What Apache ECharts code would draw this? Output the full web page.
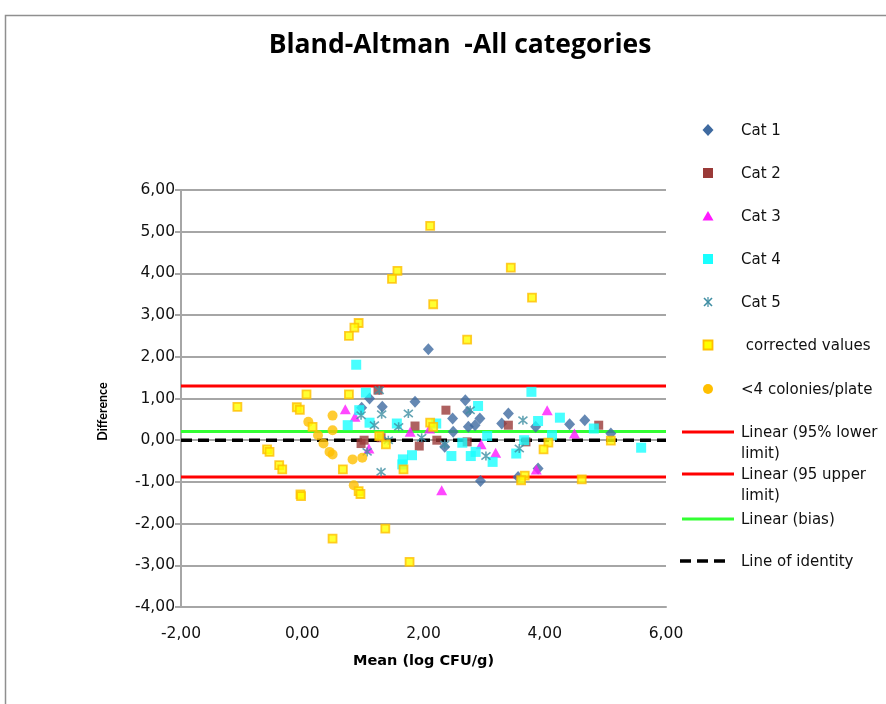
<!DOCTYPE html>
<html>
<head>
<meta charset="utf-8">
<script src="https://cdn.jsdelivr.net/npm/echarts@6/dist/echarts.min.js"></script>
<style>
  html, body { margin: 0; padding: 0; background: #ffffff; }
  #chart { width: 886px; height: 704px; }
</style>
</head>
<body>
<div id="chart"></div>
<script>
// Mean (log CFU/g) vs difference, one [mean, difference] pair per sample
const cat1 = [
  [2.08, 2.18], [1.11, 1.00], [1.86, 0.92], [1.32, 0.80], [0.98, 0.78], [2.69, 0.96],
  [2.73, 0.68], [2.48, 0.52], [2.93, 0.52], [3.40, 0.64], [3.29, 0.40], [3.85, 0.32],
  [4.41, 0.38], [4.66, 0.48], [2.49, 0.20], [2.74, 0.32], [2.85, 0.36], [2.35, -0.16],
  [2.94, -0.98], [3.89, -0.68], [3.56, -0.88], [5.09, 0.16]
];
const cat2 = [
  [1.25, 1.20], [2.37, 0.72], [1.86, 0.34], [2.22, 0.00], [1.93, -0.14], [0.97, -0.08],
  [1.02, 0.00], [2.72, -0.04], [3.40, 0.36], [4.89, 0.36], [3.69, -0.04], [1.30, 0.06]
];
const cat3 = [
  [0.71, 0.74], [0.87, 0.56], [4.04, 0.72], [1.78, 0.20], [1.10, -0.20], [2.30, -1.20],
  [2.95, -0.10], [3.19, -0.30], [4.49, 0.16], [3.86, -0.70], [2.10, 0.28]
];
const cat4 = [
  [0.89, 1.81], [1.05, 1.14], [0.94, 0.72], [2.90, 0.82], [0.75, 0.36], [1.11, 0.42],
  [1.56, 0.40], [2.21, 0.40], [3.78, 1.16], [3.89, 0.46], [4.25, 0.54], [4.81, 0.28],
  [1.66, -0.46], [1.81, -0.36], [1.65, -0.58], [2.46, -0.38], [2.64, -0.06], [2.78, -0.38],
  [2.86, -0.28], [3.05, 0.10], [3.14, -0.52], [3.66, 0.00], [4.12, 0.12], [3.53, -0.32],
  [5.59, -0.18]
];
const cat5 = [
  [1.27, 1.20], [0.97, 0.60], [1.31, 0.62], [1.75, 0.64], [2.77, 0.72], [1.19, 0.36],
  [1.59, 0.32], [3.64, 0.48], [1.42, 0.00], [1.97, 0.06], [1.07, -0.28], [1.30, -0.76],
  [2.35, -0.10], [3.03, -0.38], [3.58, -0.20]
];
const correctedValues = [
  [2.11, 5.14], [1.57, 4.06], [1.48, 3.87], [2.16, 3.26], [3.44, 4.14], [3.79, 3.42],
  [0.93, 2.81], [0.86, 2.70], [0.77, 2.50], [2.72, 2.41], [0.77, 1.10], [2.11, 0.42],
  [2.16, 0.32], [0.07, 1.10], [-1.07, 0.80], [-0.09, 0.79], [-0.04, 0.73], [0.17, 0.32],
  [-0.58, -0.22], [-0.54, -0.28], [-0.38, -0.60], [-0.33, -0.70], [-0.03, -1.30],
  [-0.02, -1.34], [0.50, -2.36], [0.67, -0.70], [1.37, -2.12], [1.77, -2.92], [1.27, 0.10],
  [1.38, -0.10], [1.67, -0.70], [0.93, -1.22], [0.96, -1.29], [4.06, -0.06], [3.98, -0.22],
  [3.67, -0.85], [3.61, -0.96], [4.61, -0.94], [5.09, -0.01]
];
const fewColonies = [
  [0.10, 0.44], [0.50, 0.59], [0.50, 0.24], [0.26, 0.12], [0.35, -0.08], [0.45, -0.28],
  [0.50, -0.34], [0.83, -0.46], [0.99, -0.42], [0.85, -1.08]
];

// Horizontal reference lines (difference values) and the x span they cover
const lowerLimit = 1.30;
const upperLimit = -0.88;
const bias = 0.21;
const identity = 0.00;
const lineSpan = [-2, 6];

// Axis ranges and steps
const xRange = [-2, 6], xStep = 2;
const yRange = [-4, 6], yStep = 1;

const seriesNames = [
  'Cat 1', 'Cat 2', 'Cat 3', 'Cat 4', 'Cat 5', 'corrected values', '<4 colonies/plate',
  'Linear (95% lower limit)', 'Linear (95 upper limit)', 'Linear (bias)', 'Line of identity'
];

const C = {
  cat1: '#3f6aa0', cat2: '#9a3a38', cat3: '#ff19ff', cat4: '#19ffff', cat5: '#3f8ea3',
  corrFill: '#ffff00', corrEdge: '#ffbf00', few: '#ffbf00',
  red: '#ff0000', green: '#33ff33', black: '#000000', grid: '#a6a6a6'
};

const fmt = v => v.toFixed(2).replace('.', ',');
const hLine = v => lineSpan.map(x => [x, v]);
const starPath = 'path://M1,1L9,9M9,1L1,9M5,0L5,10';

const chart = echarts.init(document.getElementById('chart'), null, { renderer: 'canvas' });

function scatter(name, data, symbol, size, style, z) {
  return { type: 'scatter', name, data, symbol, symbolSize: size, itemStyle: style, z: z || 3,
           animation: false, emphasis: { disabled: true } };
}
function refLine(name, v, color, width, dash) {
  return { type: 'line', name, data: hLine(v), symbol: 'none', z: 2, animation: false,
           lineStyle: { color, width, type: dash ? [11, 6] : 'solid' }, emphasis: { disabled: true } };
}

// Legend drawn as graphic elements so the two-line labels sit beside their swatches
const LX = 708, TX = 741, LINE_X1 = 682, LINE_X2 = 734;
const legendFont = '15px "DejaVu Sans"';
function legendText(x, y, text) {
  return { type: 'text', left: x, top: y - 9, style: { text, font: legendFont, fill: '#111', lineHeight: 21 } };
}
const legendRows = [130, 173, 216, 259, 302, 345, 389, 432, 474, 519, 561];
const g = [];
// chart frame
g.push({ type: 'rect', shape: { x: 5.5, y: 15.5, width: 900, height: 720 }, style: { fill: 'none', stroke: '#8f8f8f', lineWidth: 1.5 }, z: 0 });
// markers
let y = legendRows;
g.push({ type: 'polygon', shape: { points: [[LX, y[0] - 6], [LX + 5.5, y[0]], [LX, y[0] + 6], [LX - 5.5, y[0]]] }, style: { fill: C.cat1 } });
g.push({ type: 'rect', shape: { x: LX - 5, y: y[1] - 5, width: 10, height: 10 }, style: { fill: C.cat2 } });
g.push({ type: 'polygon', shape: { points: [[LX, y[2] - 5], [LX + 5.5, y[2] + 4.5], [LX - 5.5, y[2] + 4.5]] }, style: { fill: C.cat3 } });
g.push({ type: 'rect', shape: { x: LX - 5, y: y[3] - 5, width: 10, height: 10 }, style: { fill: C.cat4 } });
g.push({ type: 'line', shape: { x1: LX - 4, y1: y[4] - 4, x2: LX + 4, y2: y[4] + 4 }, style: { stroke: C.cat5, lineWidth: 1.6 } });
g.push({ type: 'line', shape: { x1: LX + 4, y1: y[4] - 4, x2: LX - 4, y2: y[4] + 4 }, style: { stroke: C.cat5, lineWidth: 1.6 } });
g.push({ type: 'line', shape: { x1: LX, y1: y[4] - 5, x2: LX, y2: y[4] + 5 }, style: { stroke: C.cat5, lineWidth: 1.2 } });
g.push({ type: 'rect', shape: { x: LX - 4.5, y: y[5] - 4.5, width: 9, height: 9 }, style: { fill: C.corrFill, stroke: C.corrEdge, lineWidth: 1.8 } });
g.push({ type: 'circle', shape: { cx: LX, cy: y[6], r: 5 }, style: { fill: C.few } });
g.push({ type: 'line', shape: { x1: LINE_X1, y1: y[7], x2: LINE_X2, y2: y[7] }, style: { stroke: C.red, lineWidth: 3 } });
g.push({ type: 'line', shape: { x1: LINE_X1, y1: y[8], x2: LINE_X2, y2: y[8] }, style: { stroke: C.red, lineWidth: 3 } });
g.push({ type: 'line', shape: { x1: LINE_X1, y1: y[9], x2: LINE_X2, y2: y[9] }, style: { stroke: C.green, lineWidth: 3 } });
g.push({ type: 'line', shape: { x1: LINE_X1 - 2, y1: y[10], x2: LINE_X2 - 5, y2: y[10] }, style: { stroke: C.black, lineWidth: 3.5, lineDash: [11, 6] } });
// labels
const labelText = [
  'Cat 1', 'Cat 2', 'Cat 3', 'Cat 4', 'Cat 5', ' corrected values', '<4 colonies/plate',
  'Linear (95% lower\nlimit)', 'Linear (95 upper\nlimit)', 'Linear (bias)', 'Line of identity'
];
labelText.forEach((t, i) => g.push(legendText(TX, y[i], t)));

const option = {
  backgroundColor: '#ffffff',
  animation: false,
  title: {
    text: 'Bland-Altman  -All categories',
    left: 455, top: 27, textAlign: 'center',
    textStyle: { fontFamily: 'Open Sans', fontWeight: 'bold', fontSize: 26.5, color: '#000' }
  },
  grid: { left: 181, right: 220, top: 190, bottom: 97, containLabel: false },
  xAxis: {
    type: 'value', min: xRange[0], max: xRange[1], interval: xStep,
    name: 'Mean (log CFU/g)', nameLocation: 'middle', nameGap: 47,
    nameTextStyle: { fontFamily: 'DejaVu Sans', fontWeight: 'bold', fontSize: 14.5, color: '#000' },
    axisLine: { show: true, onZero: false, lineStyle: { color: C.grid, width: 2 } },
    axisTick: { show: false },
    axisLabel: { formatter: fmt, margin: 19, fontFamily: 'DejaVu Sans', fontSize: 15.5, color: '#111' },
    splitLine: { show: false }
  },
  yAxis: {
    type: 'value', min: yRange[0], max: yRange[1], interval: yStep,
    name: 'Difference', nameLocation: 'middle', nameGap: 72, nameRotate: 90,
    nameTextStyle: { fontFamily: 'Lato', fontWeight: 'bold', fontSize: 12.5, color: '#000', padding: [0, 26, 0, 0] },
    axisLine: { show: true, onZero: false, lineStyle: { color: C.grid, width: 2 } },
    axisTick: { show: true, length: 6, lineStyle: { color: C.grid, width: 2 } },
    axisLabel: { formatter: fmt, margin: 6, fontFamily: 'DejaVu Sans', fontSize: 15.5, color: '#111' },
    splitLine: { show: true, lineStyle: { color: C.grid, width: 2 } }
  },
  series: [
    refLine(seriesNames[7], lowerLimit, C.red, 3, false),
    refLine(seriesNames[8], upperLimit, C.red, 3, false),
    refLine(seriesNames[9], bias, C.green, 3, false),
    refLine(seriesNames[10], identity, C.black, 3.5, true),
    scatter(seriesNames[0], cat1, 'diamond', [11, 12], { color: C.cat1 }),
    scatter(seriesNames[1], cat2, 'rect', 9, { color: C.cat2 }),
    scatter(seriesNames[2], cat3, 'triangle', [11, 10], { color: C.cat3 }),
    scatter(seriesNames[3], cat4, 'rect', 10, { color: C.cat4 }),
    scatter(seriesNames[4], cat5, starPath, 9, { color: 'rgba(0,0,0,0)', borderColor: C.cat5, borderWidth: 1.6 }),
    scatter(seriesNames[6], fewColonies, 'circle', 10, { color: C.few }, 4),
    scatter(seriesNames[5], correctedValues, 'rect', 8, { color: C.corrFill, borderColor: C.corrEdge, borderWidth: 1.8 }, 5)
  ],
  graphic: g
};

chart.setOption(option);
</script>
</body>
</html>
